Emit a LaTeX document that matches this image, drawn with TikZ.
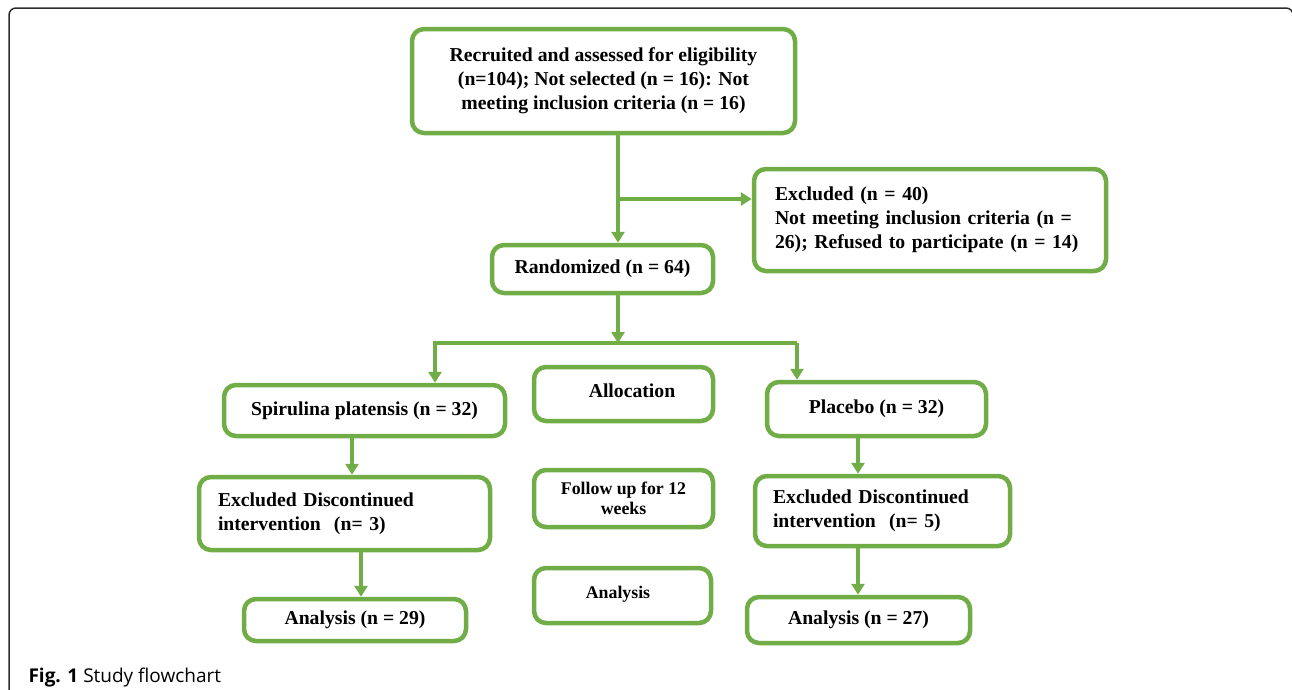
\documentclass[tikz,border=0pt]{standalone}
\usepackage{fontspec}
\setmainfont{Liberation Serif}
\newfontfamily\capfont{Open Sans}
\usepackage{tikz}
\usetikzlibrary{arrows.meta,positioning}
\definecolor{boxgreen}{RGB}{112,173,71}
\definecolor{framegray}{RGB}{45,45,45}

\begin{document}
\begin{tikzpicture}[x=1pt, y=-1pt,
    card/.style={draw=boxgreen, line width=4.5pt, rounded corners=12pt, fill=white, inner sep=0pt, align=center, font=\fontsize{19.7}{24}\selectfont\bfseries},
    cardleft/.style={card, align=left},
    small/.style={font=\fontsize{17.8}{20}\selectfont\bfseries},
    arrow/.style={-{Triangle[width=13pt,length=11pt]}, line width=4pt, draw=boxgreen},
    frame/.style={draw=framegray, line width=1.5pt, rounded corners=7pt},
    caption/.style={anchor=base west, font=\capfont\fontsize{19}{23}\selectfont}
]
    \useasboundingbox (0,0) rectangle (1292,689);
    \draw[frame] (9,700) -- (9,8) -- (1293,8) -- (1293,700);

    % screening and enrolment
    \node[card, minimum width=383pt, minimum height=104pt] (recruit) at (603.5,81) {
        Recruited and assessed for eligibility \\
        (n=104); Not selected (n = 16): Not \\
        meeting inclusion criteria (n = 16)
    };
    \node[cardleft, minimum width=352pt, minimum height=102pt, text width=310pt] (excluded) at (930,220) {
        Excluded (n = 40) \\
        Not meeting inclusion criteria (n = \\
        26); Refused to participate (n = 14)
    };
    \node[card, minimum width=221pt, minimum height=48pt] (random) at (602.5,269) {Randomized (n = 64)};

    % allocation
    \node[card, minimum width=281pt, minimum height=51pt] (spirulina) at (364.5,410.5) {Spirulina platensis (n = 32)};
    \node[card, minimum width=179pt, minimum height=54pt] (alloc) at (623.5,394) {\raisebox{6pt}{\hspace*{17pt}Allocation}};
    \node[card, minimum width=219pt, minimum height=54pt] (placebo) at (876.5,409) {Placebo (n = 32)};

    % follow up
    \node[cardleft, minimum width=291pt, minimum height=73pt, text width=253pt] (dropleft) at (344.5,513.5) {
        Excluded Discontinued \\
        intervention~ (n= 3)
    };
    \node[card, small, minimum width=179pt, minimum height=57pt] (follow) at (623.5,498.5) {
        Follow up for 12 \\
        weeks
    };
    \node[cardleft, minimum width=255pt, minimum height=70pt, text width=219pt] (dropright) at (882.5,511) {
        Excluded Discontinued \\
        intervention~ (n= 5)
    };

    % analysis
    \node[card, minimum width=222pt, minimum height=42pt] (anleft) at (355,620) {Analysis (n = 29)};
    \node[card, small, minimum width=177pt, minimum height=55pt] (anmid) at (622.5,595.5) {\raisebox{7pt}{Analysis\hspace*{9pt}}};
    \node[card, minimum width=223pt, minimum height=46pt] (anright) at (858.5,620) {Analysis (n = 27)};

    \node[caption] (figcap) at (25,682) {\textbf{Fig. 1} Study flowchart};

    % connectors
    \coordinate (forktop) at (618,199);
    \coordinate (forkmid) at (618,343);
    \coordinate (branchl) at (435,343);
    \coordinate (branchr) at (797,343);
    \coordinate (colla) at (352,0);
    \coordinate (collb) at (361,0);
    \coordinate (colr) at (858,0);

    \draw[arrow] (recruit.south -| forktop) -- (random.north -| forktop);
    \draw[arrow] (forktop) -- (excluded.west |- forktop);
    \draw[arrow] (random.south -| forkmid) -- (forkmid);
    \draw[arrow] (branchr) -| (spirulina.north -| branchl);
    \draw[arrow] (branchr) -- (placebo.north -| branchr);
    \draw[arrow] (spirulina.south -| colla) -- (dropleft.north -| colla);
    \draw[arrow] (dropleft.south -| collb) -- (anleft.north -| collb);
    \draw[arrow] (placebo.south -| colr) -- (dropright.north -| colr);
    \draw[arrow] (dropright.south -| colr) -- (anright.north -| colr);

\end{tikzpicture}
\end{document}
